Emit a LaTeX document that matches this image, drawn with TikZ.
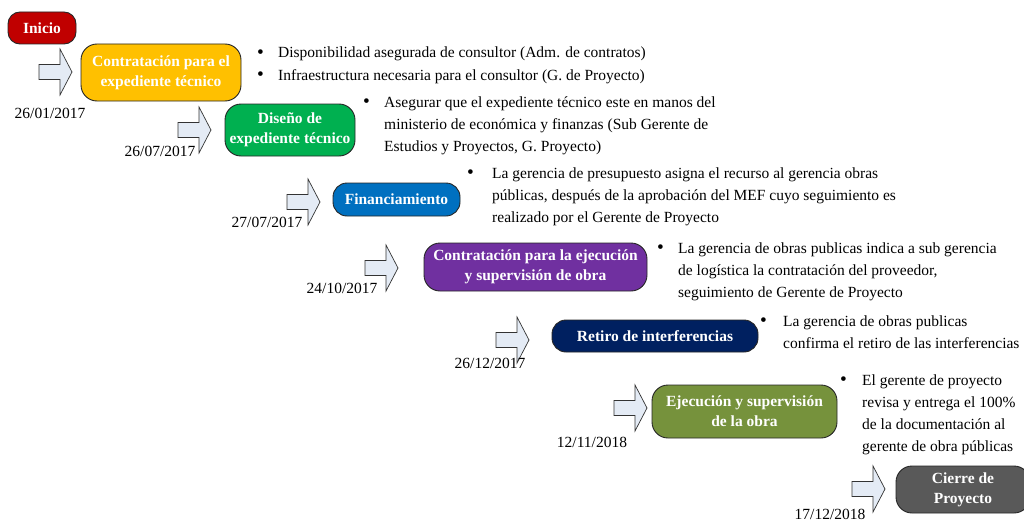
\documentclass[tikz,border=0pt]{standalone}
\usepackage{fontspec}
\setmainfont{Liberation Serif}
\definecolor{cInicio}{HTML}{C00000}
\definecolor{cGold}{HTML}{FFC000}
\definecolor{cGreen}{HTML}{00B050}
\definecolor{cBlue}{HTML}{0070C0}
\definecolor{cPurple}{HTML}{7030A0}
\definecolor{cNavy}{HTML}{002060}
\definecolor{cOlive}{HTML}{76923C}
\definecolor{cGray}{HTML}{595959}
\definecolor{arrowfill}{HTML}{E4EBF5}
\newcommand{\blockarrow}[2]{%
  \draw[arrowshape] (#1,#2-7.5) -- (#1+21,#2-7.5) -- (#1+21,#2-23) -- (#1+33,#2)
    -- (#1+21,#2+23) -- (#1+21,#2+7.5) -- (#1,#2+7.5) -- cycle;}
\newcommand{\bigbul}{\raisebox{-0.3pt}{\scalebox{1.25}{\textbullet}}}
\begin{document}
\begin{tikzpicture}[x=1pt,y=-1pt,
  stagebox/.style={draw=black!85, line width=0.9pt, rounded corners=14pt, text=white,
    font=\fontsize{15.5}{20}\selectfont\bfseries, align=center, inner sep=0pt},
  datelbl/.style={font=\fontsize{15.5}{20}\selectfont, inner sep=0pt},
  bullist/.style={font=\fontsize{15.5}{22}\selectfont, inner sep=0pt, anchor=base west},
  arrowshape/.style={draw=black!80, fill=arrowfill, line width=0.7pt, line join=miter}
]
\useasboundingbox (0,0) rectangle (1024,519);

% stage boxes
\node[stagebox, fill=cInicio, minimum width=68pt, minimum height=32pt, rounded corners=12pt] (inicio) at (42,28) {Inicio};
\node[stagebox, fill=cGold, minimum width=160pt, minimum height=57pt, rounded corners=16pt] (contrat) at (161,72.5) {Contratación para el\\expediente técnico};
\node[stagebox, fill=cGreen, minimum width=130pt, minimum height=52pt, rounded corners=16pt] (diseno) at (290,130) {Diseño de\\expediente técnico};
\node[stagebox, fill=cBlue, minimum width=127pt, minimum height=33pt] (financ) at (396.5,199.5) {Financiamiento};
\node[stagebox, fill=cPurple, minimum width=223pt, minimum height=48pt, rounded corners=16pt] (ejec) at (535.5,267) {Contratación para la ejecución\\y supervisión de obra};
\node[stagebox, fill=cNavy, minimum width=206pt, minimum height=32pt] (retiro) at (655,336) {Retiro de interferencias};
\node[stagebox, fill=cOlive, minimum width=185pt, minimum height=53pt, rounded corners=16pt] (obra) at (744.5,411.5) {Ejecución y supervisión\\de la obra};
\node[stagebox, fill=cGray, minimum width=134pt, minimum height=47pt, rounded corners=16pt] (cierre) at (963,489.5) {Cierre de\\Proyecto};

% block arrows
\blockarrow{39}{72}
\blockarrow{178}{130}
\blockarrow{287}{202}
\blockarrow{365}{268}
\blockarrow{496}{340}
\blockarrow{614}{408}
\blockarrow{852}{489}

% dates
\node[datelbl] (d1) at (50,113) {26/01/2017};
\node[datelbl] (d2) at (160,151) {26/07/2017};
\node[datelbl] (d3) at (267,222) {27/07/2017};
\node[datelbl] (d4) at (342,288) {24/10/2017};
\node[datelbl] (d5) at (490,363) {26/12/2017};
\node[datelbl] (d6) at (592,442) {12/11/2018};
\node[datelbl] (d7) at (830,514) {17/12/2018};

% bullet lists
\node[bullist] (l1) at (257,58) {\begin{tabular}[t]{@{}p{21pt}@{}l@{}}\bigbul & Disponibilidad asegurada de consultor (Adm. de contratos)\\
  \bigbul & Infraestructura necesaria para el consultor (G. de Proyecto)\end{tabular}};
\node[bullist] (l2) at (363,107) {\begin{tabular}[t]{@{}p{21pt}@{}l@{}}\bigbul & Asegurar que el expediente técnico este en manos del\\
  & ministerio de económica y finanzas (Sub Gerente de\\
  & Estudios y Proyectos, G. Proyecto)\end{tabular}};
\node[bullist] (l3) at (467,178) {\begin{tabular}[t]{@{}p{25pt}@{}l@{}}\bigbul & La gerencia de presupuesto asigna el recurso al gerencia obras\\
  & públicas, después de la aprobación del MEF cuyo seguimiento es\\
  & realizado por el Gerente de Proyecto\end{tabular}};
\node[bullist] (l4) at (657,253) {\begin{tabular}[t]{@{}p{21pt}@{}l@{}}\bigbul & La gerencia de obras publicas indica a sub gerencia\\
  & de logística la contratación del proveedor,\\
  & seguimiento de Gerente de Proyecto\end{tabular}};
\node[bullist] (l5) at (760,326) {\begin{tabular}[t]{@{}p{23pt}@{}l@{}}\bigbul & La gerencia de obras publicas\\
  & confirma el retiro de las interferencias\end{tabular}};
\node[bullist] (l6) at (840,385) {\begin{tabular}[t]{@{}p{22pt}@{}l@{}}\bigbul & El gerente de proyecto\\
  & revisa y entrega el 100\%\\
  & de la documentación al\\
  & gerente de obra públicas\end{tabular}};
\end{tikzpicture}
\end{document}
